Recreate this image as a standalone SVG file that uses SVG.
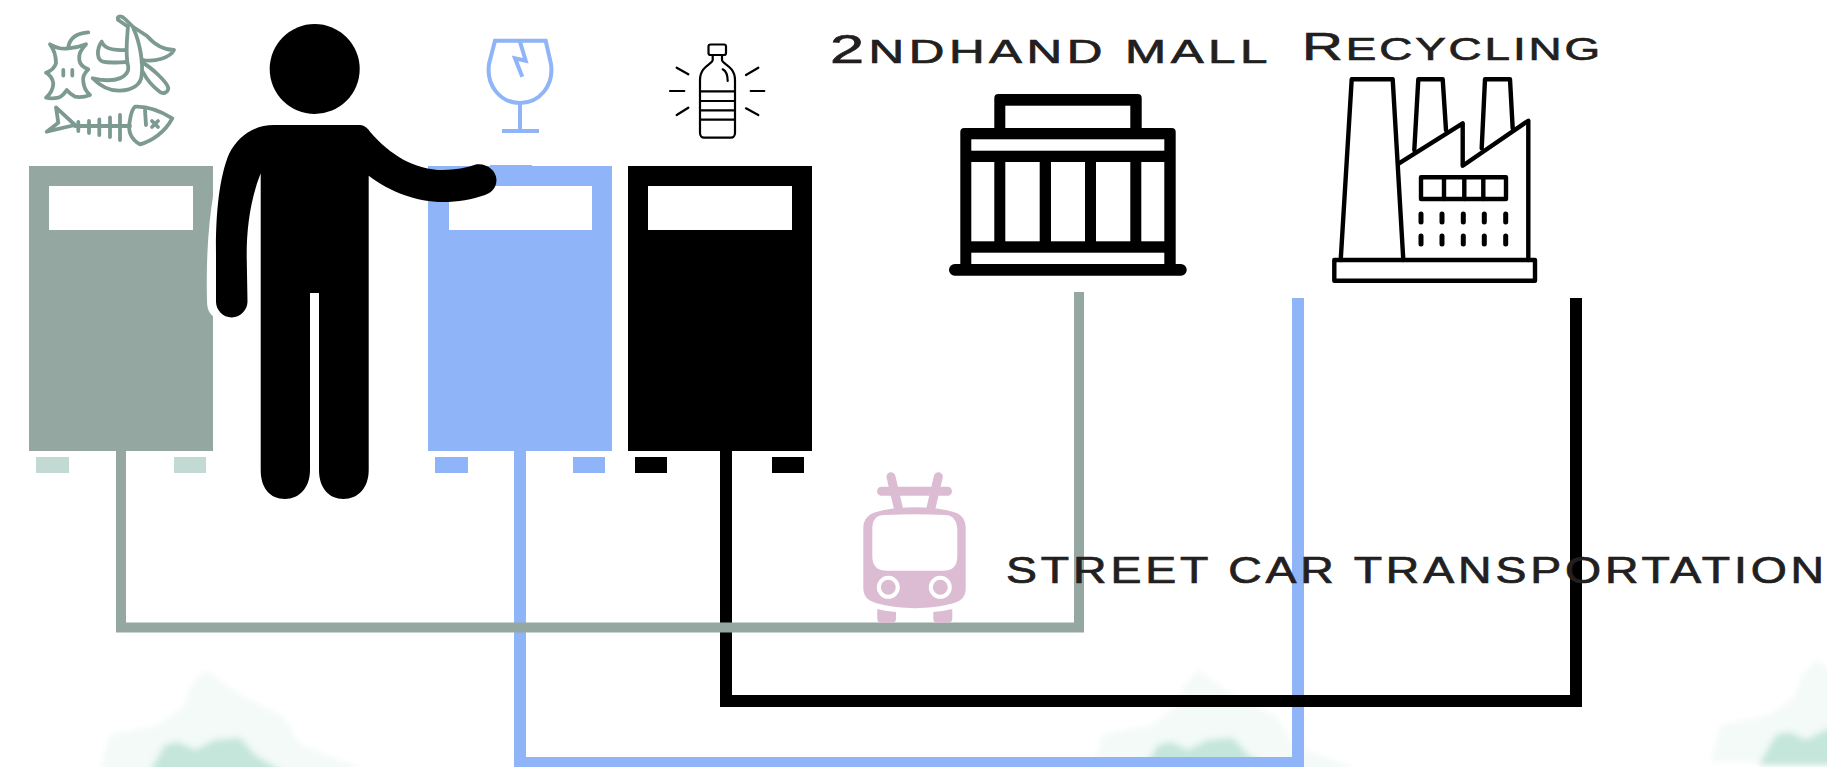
<svg xmlns="http://www.w3.org/2000/svg" width="1827" height="767" viewBox="0 0 1827 767">
<style>
.lbl{font-family:"Liberation Sans",Arial,sans-serif;fill:#231f20;stroke:#231f20;stroke-width:.7}
.food{fill:none;stroke:#7d9a92;stroke-width:3.800;stroke-linecap:round;stroke-linejoin:round}
.bk{fill:none;stroke:#000;stroke-linecap:round;stroke-linejoin:round}
.win{fill:#fff}
.conn{fill:none;stroke-linejoin:miter}
</style>
<defs>
<filter id="soft" x="-20%" y="-20%" width="140%" height="140%"><feGaussianBlur stdDeviation="3"/></filter>
<g id="mtn">
<path filter="url(#soft)" fill="#f3faf7" d="M205,670 L240,695 L283,717 L300,745 L370,772 L100,772 L110,735 L160,725 L185,705 L190,688 Z"/>
<path filter="url(#soft)" fill="#c5e6da" d="M148,775 L165,745 L178,742 L195,750 L215,740 L240,738 L255,755 L287,775 Z"/>
</g>
</defs>
<rect width="1827" height="767" fill="#fff"/>
<g id="background">
<use href="#mtn"/>
<use href="#mtn" x="993"/>
<use href="#mtn" x="1611" y="-10"/>
</g>
<g id="connectors">
<path class="conn" stroke="#8fb4f8" stroke-width="12" d="M520,451 V763 H1298 V298"/>
<path class="conn" stroke="#000" stroke-width="12" d="M726,451 V701 H1576 V298"/>
<path class="conn" stroke="#94a8a1" stroke-width="10" d="M121,451 V627.500 H1079 V292"/>
</g>
<g id="bin-green">
<path fill="#94a8a1" fill-rule="evenodd" d="M29,166 H213 V451 H29 Z M49,186 V230 H193 V186 Z"/>
<rect x="36" y="457" width="33" height="16" fill="#c3d9d3"/>
<rect x="174" y="457" width="32" height="16" fill="#c3d9d3"/>
</g>
<g id="bin-blue">
<path fill="#8fb4f8" fill-rule="evenodd" d="M428,166 H490 V165 H532 V166 H612 V451 H428 Z M449,186 V230 H592 V186 Z"/>
<rect x="435" y="457" width="33" height="16" fill="#8fb4f8"/>
<rect x="573" y="457" width="32" height="16" fill="#8fb4f8"/>
</g>
<g id="bin-black">
<path fill="#000" fill-rule="evenodd" d="M628,166 H812 V451 H628 Z M648,186 V230 H792 V186 Z"/>
<rect x="635" y="457" width="32" height="16" fill="#000"/>
<rect x="772" y="457" width="32" height="16" fill="#000"/>
</g>
<g id="person">
<path fill="#fff" d="M214,190 C208,225 206,262 207,300 C207,309 209,313 214,317 L232,317 L232,190 Z"/>
<circle cx="314.700" cy="69" r="45"/>
<path d="M274,125 H360 C364,125 367.500,128 370,131.700 C390,155 415,170 443,170 C455,170 466,168 476.700,164.300 C486,163 496.500,170 496.500,180 C496.500,188 491,193 485,195 C472,199.500 458,202 443,202 C417,202 390,192 368.700,175.700 V470 C368.700,488 358,499 343.500,499 C329,499 319,488 319,470 V293 H310 V470 C310,488 299,499 285,499 C270,499 260.700,488 260.700,470 V173.300 C250,200 246.500,230 246.700,256.700 L247.500,301.700 C247.500,310 240,317.400 231.700,317.400 C223,317.400 216,310 216,301.700 V255 C215.500,215 219,178 229,154 C238,136 254,125 274,125 Z"/>
</g>
<g id="food-icon" class="food">
<path d="M88.300,32.300 C76,33 70,38 68.300,46.700"/>
<path d="M50,44.300 Q60,50 68.300,48.300 Q77,48 86,44.300 Q78,52 79.300,60 Q80,66 88.300,69.300 Q82,75 83.300,81.700 Q84,90 90,95 Q82,98 75,96.700 Q70,94 66.700,90 Q63,96 58.300,97.700 Q52,99 46,97.700 Q53,92 53.300,83.300 Q52,76 46,72.700 Q54,70 56,63.300 Q56,52 50,44.300 Z"/>
<path d="M63.300,70 V75.500 M72.300,70 V75.500"/>
<path d="M118.300,20 C116,16 121,15 125,19 L133.300,27 L147,36 C155,45 163,50 174,50 C170,58 155,62 143,60"/>
<path d="M118.300,20 L127,26"/>
<path d="M128,26 C127,40 125,55 128.300,66.700 C129,76 118,84 92.700,78.300 C102,88 112,91 120,90.700 C132,90 141,85 141.700,75 C143,65 141,45 133.300,28"/>
<path d="M141.700,62 C152,68 167,82 168.300,88 C168,93 163,94 160,92 C152,86 147,80 143,72"/>
<path d="M101.700,41.700 C96,50 97,60 103,61.700 C110,63.500 120,62 127,62 M101.700,41.700 C104,48 111,51 126,50"/>
<path d="M56,107.300 L75,125 L46.700,131.700 L58.300,122.700 Z"/>
<path d="M75,126 H130"/>
<path d="M78.300,122 V131 M89,121 V133 M99.300,119.500 V135 M110,117.500 V137 M120,115 V140"/>
<path d="M135,106.700 C148,106 162,112 172.300,118.300 C165,132 152,141 140,144.300 C132,140 127,133 130,120 C131,113 132,109 135,106.700 Z"/>
<path d="M145,110 L146,125"/>
<path d="M152,121 L158,127 M158,121 L152,127"/>
</g>
<g id="glass-icon" fill="none" stroke="#8fb4f8" stroke-width="4">
<path d="M495,40.700 H545.700 L551,64 C554,85 540,103 520,103 C500,103 486,85 489,64 Z"/>
<path d="M520,103 V130.700 M502,131 H539"/>
<path d="M520,41.700 L525.700,60.700 L515,58.300 L522.300,76.700"/>
</g>
<g id="bottle-icon" class="bk" stroke-width="2.200">
<rect x="708.500" y="44.500" width="17.500" height="10.500" rx="2"/>
<path d="M712.700,55 V60 C712.700,64 700,66 700,80 V133 C700,136 702,137.700 704,137.700 H731 C733,137.700 735,136 735,133 V80 C735,66 722,64 722,60 V55"/>
<path d="M700,91.300 H735 M700,101 H735 M700,110.300 H735 M700,119.700 H735"/>
<path d="M722.700,69.300 C726,71 727.700,75 727.700,81"/>
<path d="M676.700,67.700 L688.300,74.300 M670,91 H684.300 M676.700,115 L688.300,107.700 M758.300,67.700 L746,75 M750.700,91 H764.300 M746,108.300 L758.300,115"/>
</g>
<g id="mall-icon">
<rect x="994.300" y="94" width="147.400" height="45" rx="4"/>
<rect x="960.300" y="128" width="215.400" height="140" rx="4"/>
<rect x="949" y="264" width="237.700" height="11.700" rx="5.800"/>
<rect class="win" x="1005.300" y="105.700" width="125" height="22.300"/>
<rect class="win" x="971.300" y="139.300" width="193" height="11.400"/>
<rect class="win" x="971.300" y="162" width="23" height="79.300"/>
<rect class="win" x="1005.300" y="162" width="34.400" height="79.300"/>
<rect class="win" x="1051" y="162" width="34" height="79.300"/>
<rect class="win" x="1096" y="162" width="34.300" height="79.300"/>
<rect class="win" x="1141.300" y="162" width="23" height="79.300"/>
<rect class="win" x="971.300" y="252.700" width="193" height="11.300"/>
</g>
<g id="factory-icon" class="bk" stroke-width="4.400">
<rect x="1334.300" y="260" width="200.700" height="20.700"/>
<path d="M1340.700,260 L1351.700,79.300 H1392.700 L1403.300,260"/>
<path d="M1399,163.300 L1462.700,123.300 V165.700 L1528.300,120.700 V260"/>
<path d="M1414.300,150 L1418.300,79.300 H1442.700 L1446,130"/>
<path d="M1481.700,148.300 L1485,79.300 H1510 L1512.700,128.300"/>
<rect x="1421" y="177.300" width="85" height="21.700"/>
<path d="M1444,177.300 V199 M1464.300,177.300 V199 M1483.300,177.300 V199"/>
<path stroke-width="5" d="M1421,214 V222 M1442,214 V222 M1463.300,214 V222 M1484.300,214 V222 M1505.700,214 V222 M1421,236 V244 M1442,236 V244 M1463.300,236 V244 M1484.300,236 V244 M1505.700,236 V244"/>
</g>
<g id="tram-icon">
<path fill="none" stroke="#dcbcd3" stroke-width="9" stroke-linecap="round" d="M891,476.700 L898.300,508 M938.300,476.700 L931,508 M881.500,491.300 H947.500"/>
<path fill="#dcbcd3" fill-rule="evenodd" d="M880,511 C900,506 930,506 950,511 C960,513 965.700,518 965.700,528 V588 C965.700,598 960,602 950,604 C930,609.500 900,609.500 880,604 C870,602 863.300,598 863.300,588 V528 C863.300,518 870,513 880,511 Z M885,515 C875,515 872.300,521 872.300,530 V556 C872.300,566 877,570.700 887,570.700 H943 C953,570.700 957.300,566 957.300,556 V530 C957.300,521 953,515 945,515 C925,514 905,514 885,515 Z"/>
<circle cx="888.300" cy="587.300" r="9.500" fill="#dcbcd3" stroke="#fff" stroke-width="4"/>
<circle cx="940.300" cy="587.300" r="9.500" fill="#dcbcd3" stroke="#fff" stroke-width="4"/>
<path fill="#dcbcd3" d="M877.300,609 C883,610.500 890,611.500 896,612 V619 C896,621.500 894,622.700 892,622.700 H881 C879,622.700 877.300,621.500 877.300,619 Z M952.300,609 C946,610.500 939,611.500 933.300,612 V619 C933.300,621.500 935,622.700 937,622.700 H948 C950,622.700 952.300,621.500 952.300,619 Z"/>
</g>
<g id="labels">
<text class="lbl" x="830" y="62.700" font-size="33" textLength="442" lengthAdjust="spacingAndGlyphs" letter-spacing="3"><tspan font-size="41">2</tspan>NDHAND MALL</text>
<text class="lbl" x="1302" y="60" font-size="32" textLength="301" lengthAdjust="spacingAndGlyphs" letter-spacing="2"><tspan font-size="39.500">R</tspan>ECYCLING</text>
<text class="lbl" x="1006" y="583" font-size="36" textLength="822" lengthAdjust="spacingAndGlyphs" letter-spacing="3">STREET CAR TRANSPORTATION</text>
</g>
</svg>
